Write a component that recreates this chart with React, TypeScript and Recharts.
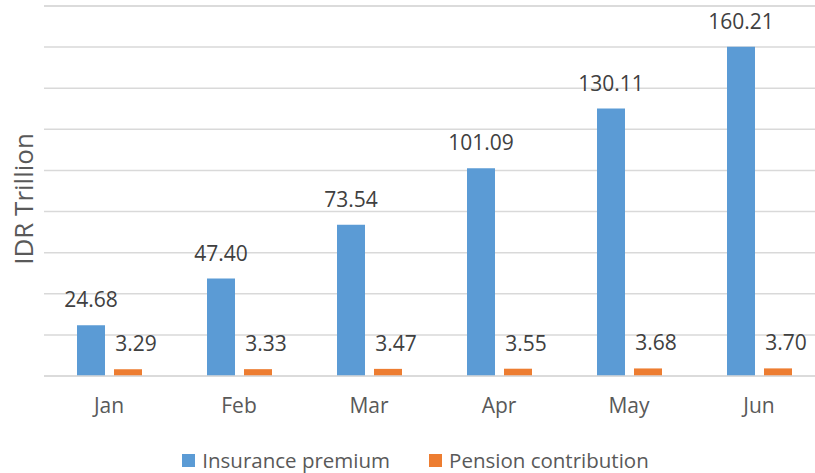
import React from 'react';
import { BarChart, Bar, XAxis, YAxis, CartesianGrid, Legend, LabelList, Label, ReferenceLine } from 'recharts';

const months = ['Jan', 'Feb', 'Mar', 'Apr', 'May', 'Jun'];
const insurancePremium = [24.68, 47.4, 73.54, 101.09, 130.11, 160.21];
const pensionContribution = [3.29, 3.33, 3.47, 3.55, 3.68, 3.7];
const yTicks = [0, 20, 40, 60, 80, 100, 120, 140, 160, 180];
const yMax = 180;

const data = months.map((m, i) => ({
  month: m,
  insurance: insurancePremium[i],
  pension: pensionContribution[i],
}));

const FONT = '"Open Sans", sans-serif';

const renderLabel = (dx: number) => (props: any) => {
  const { x, y, width, value } = props;
  return (
    <text
      x={Number(x) + Number(width) / 2 + dx}
      y={Number(y) - 18}
      textAnchor="middle"
      fill="#404040"
      fontSize={21}
      fontFamily={FONT}
    >
      {Number(value).toFixed(2)}
    </text>
  );
};

const renderLegend = () => (
  <div style={{ display: 'flex', justifyContent: 'center', fontFamily: FONT, fontSize: 20.5, color: '#595959', lineHeight: '26px' }}>
    <div style={{ display: 'flex', alignItems: 'center', marginRight: 39 }}>
      <span style={{ display: 'inline-block', width: 13, height: 13, background: '#5b9bd5', marginRight: 7 }} />
      <span>Insurance premium</span>
    </div>
    <div style={{ display: 'flex', alignItems: 'center' }}>
      <span style={{ display: 'inline-block', width: 13, height: 13, background: '#ed7d31', marginRight: 7 }} />
      <span>Pension contribution</span>
    </div>
  </div>
);

const EmptyTick = () => <g />;

export default function App() {
  return (
    <>
      <div style={{ height: 457 }} />
      <div style={{ position: 'fixed', top: 0, left: 0, width: 815, height: 473, overflow: 'hidden', background: '#fff' }}>
        <BarChart
          width={830}
          height={473}
          data={data}
          margin={{ top: 6, right: 6, bottom: 67, left: 0 }}
          barGap={9}
        >
          <CartesianGrid vertical={false} stroke="#d9d9d9" strokeWidth={1.5} syncWithTicks />
          <ReferenceLine y={yMax} stroke="#d9d9d9" strokeWidth={1.5} ifOverflow="visible" />
          <XAxis
            dataKey="month"
            height={30}
            tickLine={false}
            axisLine={{ stroke: '#d9d9d9', strokeWidth: 1.5 }}
            tick={{ fill: '#595959', fontSize: 21, fontFamily: FONT }}
            tickMargin={16}
          />
          <YAxis
            domain={[0, yMax]}
            ticks={yTicks}
            interval={0}
            width={44}
            tick={EmptyTick}
            axisLine={false}
            tickLine={false}
          >
            <Label
              value="IDR Trillion"
              angle={-90}
              position="insideLeft"
              offset={0}
              dx={24}
              dy={8}
              fontSize={26}
              fill="#595959"
              fontFamily={FONT}
              style={{ fill: '#595959', fontSize: 26, fontFamily: FONT, textAnchor: 'middle' }}
            />
          </YAxis>
          <Legend
            verticalAlign="middle"
            align="center"
            layout="horizontal"
            content={renderLegend}
            wrapperStyle={{ top: 447, left: 8, width: 815 }}
          />
          <Bar dataKey="insurance" name="Insurance premium" fill="#5b9bd5" barSize={28} isAnimationActive={false}>
            <LabelList dataKey="insurance" content={renderLabel(0)} />
          </Bar>
          <Bar dataKey="pension" name="Pension contribution" fill="#ed7d31" barSize={28} isAnimationActive={false}>
            <LabelList dataKey="pension" content={renderLabel(8)} />
          </Bar>
        </BarChart>
      </div>
    </>
  );
}
